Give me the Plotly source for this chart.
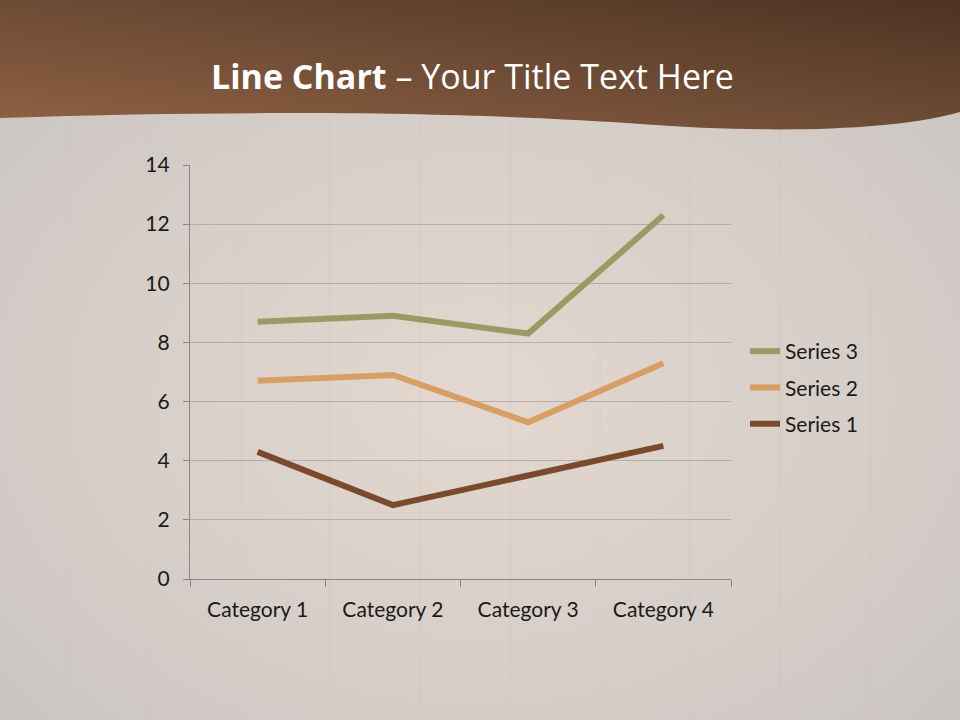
import base64
import plotly.graph_objects as go

categories = ["Category 1", "Category 2", "Category 3", "Category 4"]
series_1 = [4.3, 2.5, 3.5, 4.5]
series_2 = [2.4, 4.4, 1.8, 2.8]
series_3 = [2, 2, 3, 5]
series_names = ["Series 1", "Series 2", "Series 3"]
series_colors = ["#7b4a2d", "#d89e63", "#9a9b62"]
legend_ranks = [3, 2, 1]
y_ticks = [0, 2, 4, 6, 8, 10, 12, 14]

W, H = 960, 720
L, R, T, B = 190, 731, 165, 579

svg = f'''<svg xmlns="http://www.w3.org/2000/svg" width="{W}" height="{H}" viewBox="0 0 {W} {H}">
<defs>
<radialGradient id="bg" cx="0.5" cy="0.55" r="0.65">
<stop offset="0" stop-color="#e3d8cf"/>
<stop offset="0.6" stop-color="#d6cec8"/>
<stop offset="1" stop-color="#cbc6c3"/>
</radialGradient>
<linearGradient id="hd" x1="0" y1="1" x2="1" y2="0">
<stop offset="0" stop-color="#8f6244"/>
<stop offset="0.5" stop-color="#6e4b34"/>
<stop offset="1" stop-color="#4d3323"/>
</linearGradient>
</defs>
<rect x="0" y="0" width="{W}" height="{H}" fill="url(#bg)"/>
<g stroke="#c8bdb5" stroke-width="1" opacity="0.35">
<line x1="70" y1="120" x2="70" y2="720"/><line x1="150" y1="120" x2="150" y2="720"/>
<line x1="240" y1="120" x2="240" y2="720"/><line x1="330" y1="120" x2="330" y2="720"/>
<line x1="420" y1="120" x2="420" y2="720"/><line x1="510" y1="120" x2="510" y2="720"/>
<line x1="600" y1="120" x2="600" y2="720"/><line x1="690" y1="120" x2="690" y2="720"/>
<line x1="780" y1="120" x2="780" y2="720"/><line x1="870" y1="120" x2="870" y2="720"/>
</g>
<path d="M0,0 L960,0 L960,112 C890,132 760,133 640,124 C520,115 300,108 0,118 Z" fill="url(#hd)"/>
</svg>'''
src = "data:image/svg+xml;base64," + base64.b64encode(svg.encode()).decode()

pw, ph = R - L, B - T

fig = go.Figure()
for name, vals, col, rk in zip(series_names, [series_1, series_2, series_3], series_colors, legend_ranks):
    fig.add_trace(go.Scatter(
        x=categories, y=vals, name=name, mode="lines",
        stackgroup="one", fill="none", legendgroup=name, legendrank=rk,
        line=dict(color=col, width=6, shape="linear"),
    ))

fig.add_layout_image(dict(
    source=src, xref="paper", yref="paper",
    x=-L / pw, y=B / ph, sizex=W / pw, sizey=H / ph,
    xanchor="left", yanchor="top", sizing="stretch", layer="below",
))

fig.add_annotation(
    text="<b>Line Chart</b> – Your Title Text Here",
    xref="paper", yref="paper",
    x=(472 - L) / pw, y=(B - 76) / ph,
    showarrow=False, xanchor="center", yanchor="middle",
    font=dict(family="Open Sans", size=34, color="white"),
)

fig.update_layout(
    width=W, height=H,
    margin=dict(l=L, r=W - R, t=T, b=H - B),
    paper_bgcolor="rgba(0,0,0,0)",
    plot_bgcolor="rgba(0,0,0,0)",
    font=dict(family="Lato, Calibri, sans-serif", size=21, color="#1a1a1a"),
    showlegend=True,
    legend=dict(
        x=(745 - L) / pw, y=(B - 331) / ph, xanchor="left", yanchor="top",
        traceorder="grouped", font=dict(size=21, color="#1a1a1a"),
        bgcolor="rgba(0,0,0,0)", itemwidth=30, tracegroupgap=6,
    ),
    xaxis=dict(
        type="category", range=[-0.5, 3.5],
        tickson="boundaries", ticks="outside", ticklen=7, tickcolor="#8a8583",
        showline=True, linecolor="#8a8583", linewidth=1.3,
        showgrid=False, zeroline=False, tickfont=dict(size=21),
        ticklabelstandoff=12, fixedrange=True,
    ),
    yaxis=dict(
        range=[0, 14], tickvals=y_ticks, ticks="outside", ticklen=6,
        tickcolor="#8a8583", showline=True, linecolor="#8a8583", linewidth=1.3,
        showgrid=True, gridcolor="rgba(150,145,142,0.55)", gridwidth=1,
        zeroline=False, tickfont=dict(size=21), ticklabelstandoff=9,
    ),
)

fig.write_html("out.html", config={"displayModeBar": False},
               post_script="document.body.style.margin='0';document.body.style.padding='0';")
